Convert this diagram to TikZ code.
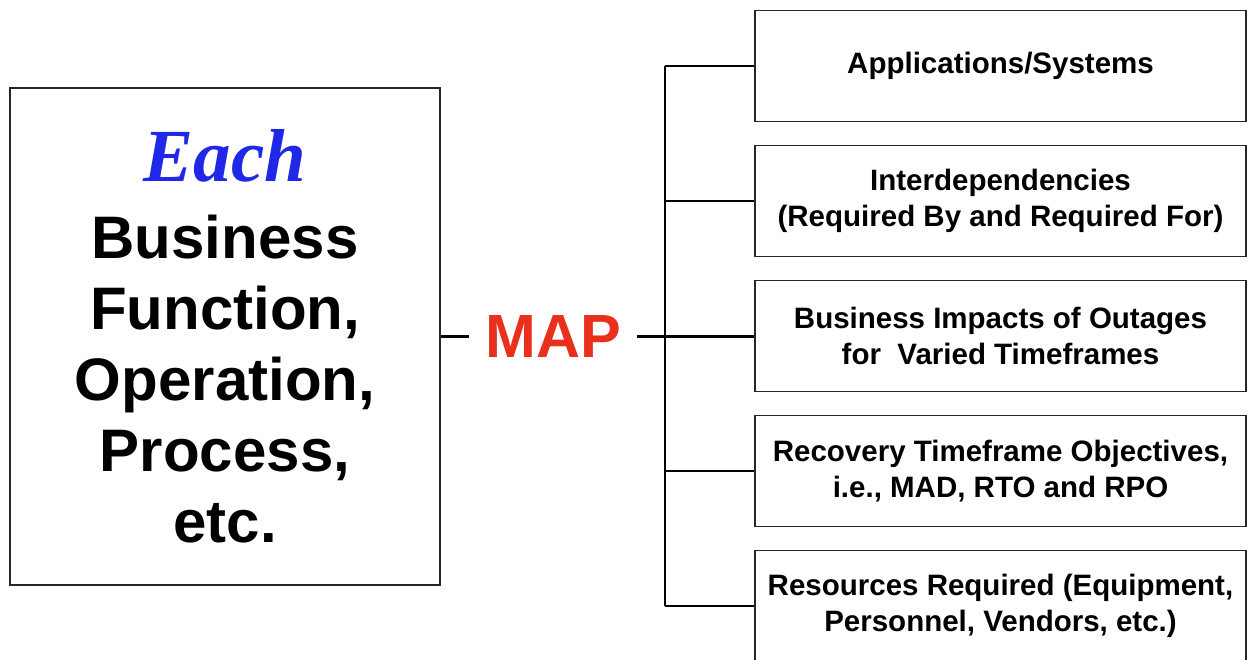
\documentclass[tikz,border=0pt]{standalone}
\usepackage{fontspec}
\setmainfont{Liberation Sans}
\newfontfamily\eachfont{Liberation Serif}
\usetikzlibrary{positioning}
\definecolor{eachblue}{RGB}{30,40,230}
\definecolor{mapred}{RGB}{232,48,28}

\begin{document}
\begin{tikzpicture}[x=1pt, y=-1pt,
    funcbox/.style={draw=black!85, line width=1.5pt, minimum width=430pt, minimum height=497pt,
        align=center, inner sep=0pt, font=\bfseries\fontsize{60}{71}\selectfont},
    itembox/.style={draw=black!85, line width=1.5pt, minimum width=491pt, minimum height=111pt,
        align=center, inner sep=0pt, font=\bfseries\fontsize{29.5}{36}\selectfont},
    link/.style={line width=2.6pt}]
    \clip (0,0) rectangle (1249,660);

    % Left box
    \node[funcbox] (func) at (225,336.5)
        {{\eachfont\bfseries\itshape\fontsize{75}{71}\selectfont\textcolor{eachblue}{Each}}\\[6pt]
         Business\\ Function,\\ Operation,\\ Process,\\ etc.};

    % MAP label
    \node[text=mapred, font=\bfseries\fontsize{61}{70}\selectfont, inner xsep=16pt] (map) at (553,336.5) {MAP};

    % Right boxes
    \node[itembox] (apps) at (1000.5,66) {Applications/Systems};
    \node[itembox, below=22.5pt of apps] (interdep) {Interdependencies\\(Required By and Required For)};
    \node[itembox, below=22.5pt of interdep] (impact) {Business Impacts of Outages\\for~ Varied Timeframes};
    \node[itembox, below=22.5pt of impact] (recovery) {Recovery Timeframe Objectives,\\i.e., MAD, RTO and RPO};
    \node[itembox, below=22.5pt of recovery] (resource) {Resources Required (Equipment,\\Personnel, Vendors, etc.)};

    % Connectors
    \coordinate (bus) at (665,0);
    \draw[link] (func.east) -- (map.west);
    \draw[link] (map.east) -- (map.east -| impact.west);
    \draw[link] (apps.west -| bus) -- (resource.west -| bus);
    \foreach \b in {apps, interdep, recovery, resource}
        \draw[link] (\b.west -| bus) -- (\b.west);
\end{tikzpicture}
\end{document}
